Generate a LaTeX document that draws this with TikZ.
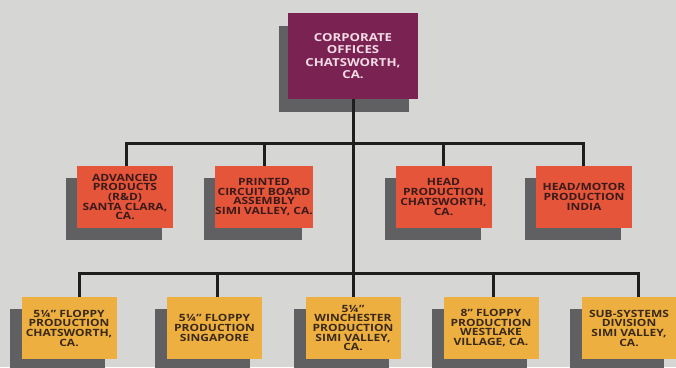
\documentclass[tikz,border=0pt]{standalone}
\usepackage{fontspec}
\newfontfamily\boxfont[FakeStretch=1.2]{Open Sans}
\usetikzlibrary{shadows}
\definecolor{bgcol}{HTML}{D6D6D4}
\definecolor{topcol}{HTML}{7A2252}
\definecolor{midcol}{HTML}{E5553A}
\definecolor{lowcol}{HTML}{EDB040}
\definecolor{shadcol}{HTML}{606062}
\definecolor{linecol}{HTML}{1E1E1E}
\definecolor{midtext}{HTML}{3A1A1A}
\definecolor{lowtext}{HTML}{3A2818}
\definecolor{toptext}{HTML}{F4DCE6}
\tikzset{
  orgbox/.style={rectangle, inner sep=0pt, align=center},
  topbox/.style={orgbox, fill=topcol, text=toptext, minimum width=130pt, minimum height=86pt,
    font={\boxfont\bfseries\fontsize{11pt}{12.6pt}\selectfont},
    general shadow={fill=shadcol, shadow xshift=-9pt, shadow yshift=-13pt}},
  midbox/.style={orgbox, fill=midcol, text=midtext, minimum width=96pt, minimum height=62pt,
    font={\boxfont\bfseries\fontsize{10pt}{9.7pt}\selectfont},
    general shadow={fill=shadcol, shadow xshift=-11pt, shadow yshift=-12pt}},
  lowbox/.style={orgbox, fill=lowcol, text=lowtext, minimum width=95pt, minimum height=62pt,
    font={\boxfont\bfseries\fontsize{10pt}{9.7pt}\selectfont},
    general shadow={fill=shadcol, shadow xshift=-12pt, shadow yshift=-12pt}},
  orgline/.style={draw=linecol, line width=3pt, line join=miter}
}
\begin{document}
\begin{tikzpicture}[x=1pt,y=-1pt]
\useasboundingbox (0,0) rectangle (676,367);
\clip (0,0) rectangle (676,367);
\fill[bgcol] (0,0) rectangle (676,367);
% top
\node[topbox] (top) at (353,56) {CORPORATE\\OFFICES\\CHATSWORTH,\\CA.};
% row 2
\node[midbox] (A) at (125,197) {ADVANCED\\PRODUCTS\\(R\&D)\\SANTA CLARA,\\CA.};
\node[midbox] (B) at (264,197) {PRINTED\\CIRCUIT BOARD\\ASSEMBLY\\SIMI VALLEY, CA.};
\node[midbox] (C) at (443.5,197) {HEAD\\PRODUCTION\\CHATSWORTH,\\CA.};
\node[midbox] (D) at (584,197) {HEAD/MOTOR\\PRODUCTION\\INDIA};
% row 3
\node[lowbox] (E) at (69,328) {5¼” FLOPPY\\PRODUCTION\\CHATSWORTH,\\CA.};
\node[lowbox] (F) at (214.5,328) {5¼” FLOPPY\\PRODUCTION\\SINGAPORE};
\node[lowbox] (G) at (353,328) {5¼”\\WINCHESTER\\PRODUCTION\\SIMI VALLEY,\\CA.};
\node[lowbox] (H) at (491,328) {8” FLOPPY\\PRODUCTION\\WESTLAKE\\VILLAGE, CA.};
\node[lowbox, minimum width=94pt] (I) at (629,328) {SUB-SYSTEMS\\DIVISION\\SIMI VALLEY,\\CA.};
% bus coordinates
\coordinate (b2l) at (126,143);
\coordinate (b2r) at (583,143);
\coordinate (b2b) at (264,143);
\coordinate (b2c) at (443,143);
\coordinate (b3l) at (79,273);
\coordinate (b3f) at (217,273);
\coordinate (b3h) at (493,273);
\coordinate (b3r) at (638,273);
% connectors
\draw[orgline] (top.south) -- (G.north);
\draw[orgline] (b2l |- A.north) -- (b2l) -- (b2r) -- (b2r |- D.north);
\draw[orgline] (b2b) -- (b2b |- B.north);
\draw[orgline] (b2c) -- (b2c |- C.north);
\draw[orgline] (b3l |- E.north) -- (b3l) -- (b3r) -- (b3r |- I.north);
\draw[orgline] (b3f) -- (b3f |- F.north);
\draw[orgline] (b3h) -- (b3h |- H.north);
\end{tikzpicture}
\end{document}
